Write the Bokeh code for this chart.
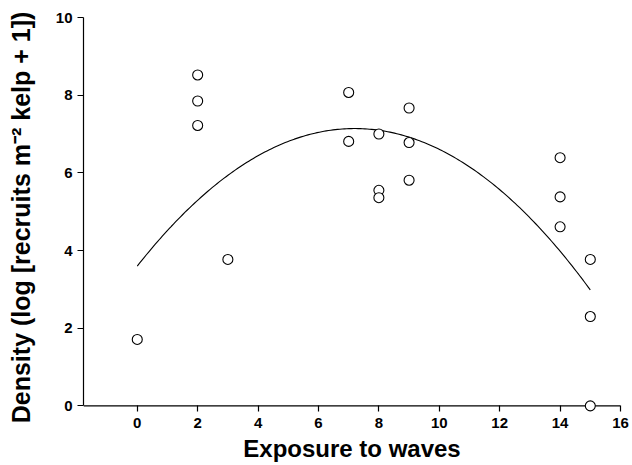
import numpy as np
from bokeh.plotting import figure
from bokeh.models import Range1d, FixedTicker, Span
from bokeh.embed import file_html
from bokeh.resources import INLINE

# Data
exposure = [0, 2, 2, 2, 3, 7, 7, 8, 8, 8, 9, 9, 9, 14, 14, 14, 15, 15, 15]
density = [1.71, 8.52, 7.85, 7.22, 3.77, 8.07, 6.81, 7.00, 5.55, 5.36,
           7.67, 6.78, 5.81, 6.39, 5.38, 4.61, 3.77, 2.30, 0.0]

# Quadratic fit (c0 + c1*x + c2*x^2)
fit_coef = [3.60, 0.9835, -0.0683]
fit_x_range = [0, 15]

x_ticks = [0, 2, 4, 6, 8, 10, 12, 14, 16]
y_ticks = [0, 2, 4, 6, 8, 10]

FONT = "Liberation Sans"

p = figure(width=632, height=465,
           x_range=Range1d(-1.78, 16), y_range=Range1d(-0.3, 10),
           output_backend="svg", toolbar_location=None,
           min_border_left=83, min_border_right=12,
           min_border_top=17, min_border_bottom=48)
p.outline_line_color = None
p.grid.visible = False
p.background_fill_color = "white"

# x axis line at y = 0 (frame extends slightly below so the marker at 0 is not clipped)
p.add_layout(Span(location=0, dimension="width", line_color="black",
                  line_width=1.2, level="underlay"))

fx = np.linspace(fit_x_range[0], fit_x_range[1], 200)
fy = fit_coef[0] + fit_coef[1] * fx + fit_coef[2] * fx ** 2
p.line(fx, fy, line_color="black", line_width=1.1)

p.scatter(exposure, density, size=10, marker="circle",
          fill_color="white", line_color="black", line_width=1.1)

xa = p.xaxis[0]
xa.ticker = FixedTicker(ticks=x_ticks)
xa.axis_label = "Exposure to waves"

ya = p.yaxis[0]
ya.bounds = (0, 10)
ya.ticker = FixedTicker(ticks=y_ticks)
ya.axis_label = "Density (log [recruits m\u207b\u00b2 kelp + 1])"
ya.axis_label_standoff = 18

for ax in (xa, ya):
    ax.axis_line_color = "black"
    ax.axis_line_width = 1.2
    ax.major_tick_line_color = "black"
    ax.major_tick_line_width = 1.2
    ax.minor_tick_line_color = None
    ax.major_label_text_font = FONT
    ax.major_label_text_font_style = "bold"
    ax.major_label_text_font_size = "15px"
    ax.major_label_text_color = "black"
    ax.axis_label_text_font = FONT
    ax.axis_label_text_font_style = "bold"
    ax.axis_label_text_color = "black"

ya.major_tick_out = 6
ya.major_tick_in = 0
ya.major_label_standoff = 5
ya.axis_label_text_font_size = "25px"

# ticks start at the y = 0 line, which sits 12 px above the frame bottom
xa.axis_line_color = None
xa.major_tick_in = 12
xa.major_tick_out = -6
xa.major_label_standoff = 0
xa.axis_label_standoff = 4
xa.axis_label_text_font_size = "24px"

open("out.html", "w").write(file_html(p, INLINE))
